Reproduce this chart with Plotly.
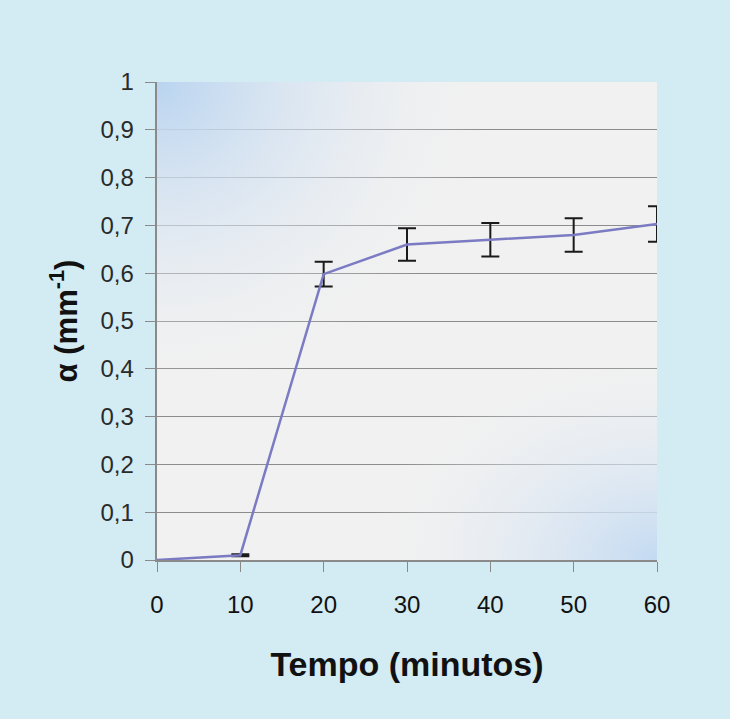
import plotly.graph_objects as go

# time (minutes) and alpha values
tempo = [0, 10, 20, 30, 40, 50, 60]
alpha = [0.0, 0.01, 0.598, 0.66, 0.67, 0.68, 0.703]
erro = [0.0, 0.002, 0.026, 0.034, 0.035, 0.035, 0.037]

FONT = 'Liberation Sans, Arial'

fig = go.Figure()

# soft blue shading in two corners of the plot area
fig.add_trace(go.Scatter(
    x=[-40, 40, 40, -40, -40], y=[0.35, 0.35, 1.65, 1.65, 0.35],
    mode='none', fill='toself', hoverinfo='skip', showlegend=False,
    fillgradient=dict(type='radial', colorscale=[
        [0, 'rgba(185,212,240,1)'], [0.5, 'rgba(215,228,242,0.6)'],
        [1, 'rgba(241,241,241,0)']]),
))
fig.add_trace(go.Scatter(
    x=[25, 95, 95, 25, 25], y=[-0.45, -0.45, 0.45, 0.45, -0.45],
    mode='none', fill='toself', hoverinfo='skip', showlegend=False,
    fillgradient=dict(type='radial', colorscale=[
        [0, 'rgba(195,218,242,1)'], [0.5, 'rgba(220,231,243,0.6)'],
        [1, 'rgba(241,241,241,0)']]),
))

fig.add_trace(go.Scatter(
    x=tempo, y=alpha, mode='lines',
    line=dict(color='#7b7bc4', width=2.5),
    error_y=dict(type='data', array=erro, visible=True,
                 color='#1a1a1a', thickness=2, width=9),
    showlegend=False,
))

fig.update_xaxes(
    range=[0, 60], tickvals=tempo, ticks='outside', ticklen=10,
    tickcolor='#8a8a8a', showline=True, linecolor='#8a8a8a', linewidth=1.5,
    showgrid=False, zeroline=False, ticklabelstandoff=12,
    tickfont=dict(family=FONT, size=24, color='#111'),
    title=dict(text='<b>Tempo (minutos)</b>', standoff=36,
               font=dict(family=FONT, size=34, color='#111')),
)
fig.update_yaxes(
    range=[0, 1], dtick=0.1, ticks='outside', ticklen=10,
    tickcolor='#8a8a8a', showline=True, linecolor='#8a8a8a', linewidth=1.5,
    showgrid=True, gridcolor='#8c8c8c', gridwidth=1.2, zeroline=False,
    ticksuffix='<span style="color:rgba(0,0,0,0)">,</span>',
    tickfont=dict(family=FONT, size=24, color='#2a2a2a'),
    title=dict(text='<b>α (mm<sup>-1</sup>)</b>', standoff=14,
               font=dict(family=FONT, size=31, color='#111')),
)

fig.update_layout(
    width=730, height=719,
    margin=dict(l=157, r=73, t=82, b=159),
    paper_bgcolor='#d3ebf2',
    plot_bgcolor='#f1f1f1',
    separators=',.',
)

fig.write_html("out.html", config={'displayModeBar': False},
               post_script="document.body.style.margin='0';")
